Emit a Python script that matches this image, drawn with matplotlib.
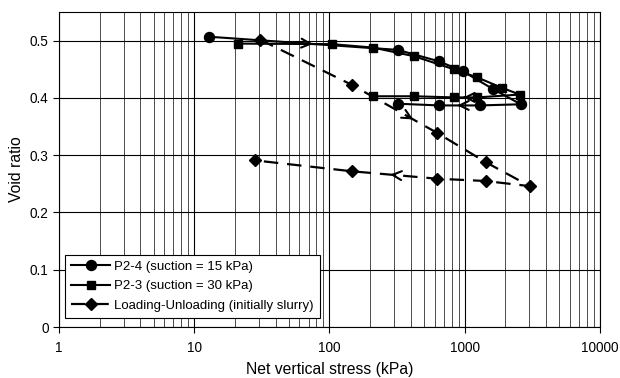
import numpy as np
import matplotlib
matplotlib.use('Agg')
import matplotlib.pyplot as plt
from matplotlib.ticker import FixedLocator, FuncFormatter, LogLocator

plt.rcParams['font.family'] = ['Liberation Sans', 'DejaVu Sans']

# P2-4 (suction = 15 kPa): loading then unloading
p24_x = [12.8, 320, 644, 963, 1606, 2598, 1293, 644, 320]
p24_y = [0.507, 0.484, 0.464, 0.447, 0.416, 0.389, 0.387, 0.387, 0.390]
# P2-3 (suction = 30 kPa)
p23_x = [20.9, 105, 210, 421, 835, 1235, 1871, 2553, 1235, 835, 421, 210]
p23_y = [0.495, 0.494, 0.488, 0.473, 0.450, 0.436, 0.418, 0.406, 0.401, 0.401, 0.403, 0.403]
# Loading-Unloading (initially slurry)
lu_x = [30.6, 146, 625, 1426, 3029, 1426, 625, 146, 28.1]
lu_y = [0.502, 0.423, 0.339, 0.288, 0.246, 0.255, 0.259, 0.272, 0.291]

# direction arrows: (segment start index, position of head along segment)
p24_arrows = [(0, 0.55), (6, 0.55)]
p23_arrows = [(8, 0.6)]
lu_arrows = [(1, 0.72), (6, 0.55)]

fig = plt.figure(figsize=(6.2, 3.78), dpi=100)
ax = fig.add_axes([0.0952, 0.1349, 0.8725, 0.8331])

ax.plot(p24_x, p24_y, '-', color='k', lw=1.5, marker='o', ms=7.2,
        label='P2-4 (suction = 15 kPa)', zorder=4)
ax.plot(p23_x, p23_y, '-', color='k', lw=1.5, marker='s', ms=5.8,
        label='P2-3 (suction = 30 kPa)', zorder=4)
ax.plot(lu_x, lu_y, '--', color='k', lw=1.6, marker='D', ms=6.3, dashes=(6.5, 4),
        label='Loading-Unloading (initially slurry)', zorder=4)


def add_arrow(xs, ys, i, t):
    # short arrow along segment i (log x, linear y), head at fraction t
    lx0, lx1 = np.log10(xs[i]), np.log10(xs[i + 1])
    ta, tb = t - 0.06, t
    xa = 10 ** (lx0 + (lx1 - lx0) * ta)
    xb = 10 ** (lx0 + (lx1 - lx0) * tb)
    ya = ys[i] + (ys[i + 1] - ys[i]) * ta
    yb = ys[i] + (ys[i + 1] - ys[i]) * tb
    ax.annotate('', xy=(xb, yb), xytext=(xa, ya), zorder=5,
                arrowprops=dict(arrowstyle='->,head_length=0.65,head_width=0.32',
                                color='k', lw=1.5, shrinkA=0, shrinkB=0))


for i, t in p24_arrows:
    add_arrow(p24_x, p24_y, i, t)
for i, t in p23_arrows:
    add_arrow(p23_x, p23_y, i, t)
for i, t in lu_arrows:
    add_arrow(lu_x, lu_y, i, t)

ax.set_xscale('log')
ax.set_xlim(1, 10000)
ax.set_ylim(0, 0.55)
ax.xaxis.set_major_locator(FixedLocator([1, 10, 100, 1000, 10000]))
ax.xaxis.set_major_formatter(FuncFormatter(lambda v, p: f'{v:g}'))
ax.xaxis.set_minor_locator(LogLocator(base=10, subs=np.arange(2, 10)))
ax.yaxis.set_major_locator(FixedLocator([0, 0.1, 0.2, 0.3, 0.4, 0.5]))
ax.yaxis.set_major_formatter(FuncFormatter(lambda v, p: f'{v:g}'))

ax.grid(which='major', color='k', lw=0.8)
ax.grid(which='minor', axis='x', color='0.3', lw=0.7)
ax.set_axisbelow(True)
ax.tick_params(which='major', direction='out', length=4, width=0.8, labelsize=9.8, colors='k')
ax.tick_params(axis='x', which='major', pad=6)
ax.tick_params(which='minor', length=0)
for s in ax.spines.values():
    s.set_color('k')
    s.set_linewidth(0.8)

ax.set_xlabel('Net vertical stress (kPa)', fontsize=11.3, labelpad=5)
ax.set_ylabel('Void ratio', fontsize=11.3, labelpad=4)

leg = ax.legend(loc='lower left', bbox_to_anchor=(0.011, 0.029), borderaxespad=0,
                fontsize=9.5, handlelength=3, labelspacing=0.55, fancybox=False,
                framealpha=1, edgecolor='k', borderpad=0.45, handletextpad=0.3)
leg.get_frame().set_linewidth(0.8)

fig.savefig('out.png', dpi=100)
